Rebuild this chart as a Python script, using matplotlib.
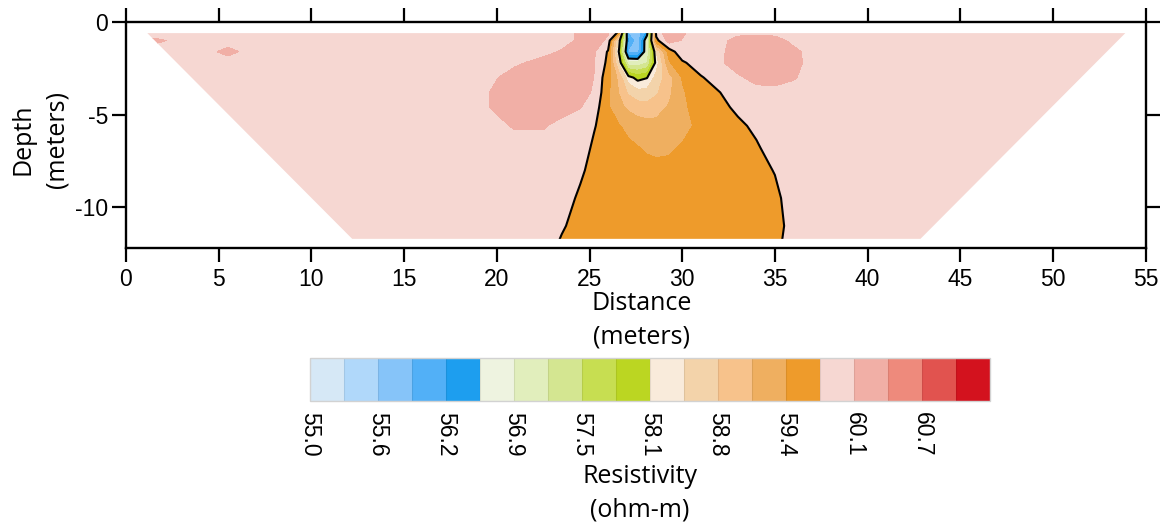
import matplotlib
matplotlib.use("Agg")
import matplotlib.pyplot as plt
import numpy as np
from matplotlib import font_manager
from matplotlib.patches import Polygon

# grid of the inverted section
DIST = [0, 1.5, 4, 5.5, 7, 10, 14, 18, 19.5, 21, 22.5, 23.5, 24.5, 25.25, 26, 26.6,
        27.1, 27.6, 28.1, 28.6, 29.3, 30, 31, 32, 33, 34, 35, 36, 37, 39, 45, 55]
DEPTH = [-0.5, -1.0, -1.6, -2.2, -3.0, -3.8, -4.6, -5.6, -6.8, -8.0, -9.5, -11.0, -12.2]
RES = [
    [59.92, 59.92, 59.92, 59.92, 59.92, 59.92, 59.92, 59.92, 59.92, 59.92, 59.92, 59.92, 60.12, 60.22, 60.12, 59.72,
     55.85, 55.70, 56.30, 59.90, 60.30, 60.12, 59.92, 59.92, 59.92, 59.92, 59.92, 59.92, 59.92, 59.92, 59.92, 59.92],
    [59.92, 60.12, 59.92, 59.92, 59.92, 59.92, 59.92, 59.92, 59.92, 59.92, 59.92, 59.92, 60.14, 60.22, 60.00, 58.30,
     56.20, 55.75, 56.90, 59.65, 60.20, 60.05, 59.92, 59.95, 60.20, 60.25, 60.20, 59.98, 59.92, 59.92, 59.92, 59.92],
    [59.92, 59.95, 59.92, 60.16, 59.92, 59.92, 59.92, 59.92, 59.92, 59.92, 59.95, 60.10, 60.22, 60.10, 59.72, 58.10,
     55.90, 55.80, 56.91, 58.49, 59.60, 59.95, 59.92, 59.98, 60.25, 60.30, 60.28, 60.15, 59.95, 59.92, 59.92, 59.92],
    [59.92, 59.92, 59.92, 59.92, 59.92, 59.92, 59.92, 59.92, 59.92, 60.00, 60.20, 60.25, 60.20, 60.08, 59.67, 58.40,
     57.00, 57.00, 57.20, 58.30, 59.40, 59.70, 59.92, 60.00, 60.25, 60.32, 60.30, 60.18, 59.95, 59.92, 59.92, 59.92],
    [59.92, 59.92, 59.92, 59.92, 59.92, 59.92, 59.92, 59.92, 59.95, 60.25, 60.30, 60.28, 60.20, 60.06, 59.54, 59.00,
     58.30, 58.05, 58.15, 58.60, 59.00, 59.45, 59.72, 59.90, 60.00, 60.20, 60.25, 60.10, 59.92, 59.92, 59.92, 59.92],
    [59.92, 59.92, 59.92, 59.92, 59.92, 59.92, 59.92, 59.92, 60.05, 60.30, 60.32, 60.30, 60.20, 60.02, 59.50, 59.10,
     58.75, 58.60, 58.60, 58.75, 59.05, 59.40, 59.60, 59.74, 59.92, 59.92, 59.92, 59.92, 59.92, 59.92, 59.92, 59.92],
    [59.92, 59.92, 59.92, 59.92, 59.92, 59.92, 59.92, 59.92, 60.05, 60.28, 60.30, 60.22, 60.08, 59.90, 59.48, 59.20,
     59.05, 58.95, 58.92, 58.98, 59.15, 59.38, 59.55, 59.68, 59.80, 59.92, 59.92, 59.92, 59.92, 59.92, 59.92, 59.92],
    [59.92, 59.92, 59.92, 59.92, 59.92, 59.92, 59.92, 59.92, 59.95, 60.10, 60.10, 59.95, 59.92, 59.77, 59.60, 59.45,
     59.35, 59.28, 59.23, 59.22, 59.25, 59.35, 59.50, 59.62, 59.70, 59.80, 59.92, 59.92, 59.92, 59.92, 59.92, 59.92],
    [59.92, 59.92, 59.92, 59.92, 59.92, 59.92, 59.92, 59.92, 59.92, 59.92, 59.92, 59.92, 59.88, 59.70, 59.60, 59.55,
     59.50, 59.45, 59.40, 59.38, 59.40, 59.46, 59.55, 59.60, 59.65, 59.72, 59.85, 59.92, 59.92, 59.92, 59.92, 59.92],
    [59.92, 59.92, 59.92, 59.92, 59.92, 59.92, 59.92, 59.92, 59.92, 59.92, 59.92, 59.92, 59.80, 59.65, 59.60, 59.58,
     59.56, 59.54, 59.52, 59.50, 59.50, 59.52, 59.56, 59.60, 59.63, 59.68, 59.76, 59.92, 59.92, 59.92, 59.92, 59.92],
    [59.92, 59.92, 59.92, 59.92, 59.92, 59.92, 59.92, 59.92, 59.92, 59.92, 59.92, 59.88, 59.70, 59.62, 59.60, 59.60,
     59.58, 59.57, 59.56, 59.56, 59.56, 59.57, 59.58, 59.60, 59.60, 59.62, 59.70, 59.85, 59.92, 59.92, 59.92, 59.92],
    [59.92, 59.92, 59.92, 59.92, 59.92, 59.92, 59.92, 59.92, 59.92, 59.92, 59.90, 59.78, 59.65, 59.62, 59.60, 59.60,
     59.60, 59.60, 59.60, 59.60, 59.60, 59.60, 59.60, 59.60, 59.60, 59.62, 59.68, 59.82, 59.92, 59.92, 59.92, 59.92],
    [59.92, 59.92, 59.92, 59.92, 59.92, 59.92, 59.92, 59.92, 59.92, 59.92, 59.86, 59.70, 59.63, 59.60, 59.60, 59.60,
     59.60, 59.60, 59.60, 59.60, 59.60, 59.60, 59.60, 59.60, 59.60, 59.60, 59.70, 59.85, 59.92, 59.92, 59.92, 59.92],
]

# outline of the covered section (trapezoid)
SECTION_X = [1.15, 53.9, 42.85, 12.2]
SECTION_Z = [-0.6, -0.6, -11.7, -11.7]

RES_MIN, RES_MAX, N_BINS = 55.0, 61.333, 20
TICK_LABELS = ["55.0", "55.6", "56.2", "56.9", "57.5", "58.1", "58.8", "59.4", "60.1", "60.7"]
BIN_COLORS = [
    "#d6e8f6", "#b0d8fa", "#86c4f9", "#52b0f7", "#1d9eef",
    "#eef3e0", "#e1eebc", "#d4e691", "#c7de51", "#bbd622",
    "#f9ebdb", "#f3d3aa", "#f7c28b", "#efaf60", "#ee9b2b",
    "#f6d7d2", "#f1afa6", "#ee8a7c", "#e1534f", "#d3121e",
]

names = {f.name for f in font_manager.fontManager.ttflist}
if "Liberation Sans Narrow" in names:
    TICK_FONT, TICK_SIZE = "Liberation Sans Narrow", 18
else:
    TICK_FONT, TICK_SIZE = "Liberation Sans", 16.5
LABEL_FONT = "Open Sans"
LABEL_SIZE = 18

plt.rcParams["font.family"] = TICK_FONT
plt.rcParams["axes.unicode_minus"] = False

W, H = 1170, 527


def main():
    levels = np.linspace(RES_MIN, RES_MAX, N_BINS + 1)
    x = np.array(DIST)
    z = np.array(DEPTH)
    v = np.array(RES)

    fig = plt.figure(figsize=(W / 100, H / 100), dpi=100)
    ax = fig.add_axes([126 / W, 1 - 248.3 / H, (1145.7 - 126) / W, (248.3 - 22) / H])

    cf = ax.contourf(x, z, v, levels=levels, colors=BIN_COLORS)
    cl = ax.contour(x, z, v, levels=levels[[5, 10, 15]], colors="black", linewidths=1.5)
    section = Polygon(np.column_stack([SECTION_X, SECTION_Z]), closed=True,
                      transform=ax.transData, facecolor="none", edgecolor="none")
    ax.add_patch(section)
    cf.set_clip_path(section)
    cl.set_clip_path(section)

    ax.set_xlim(0, 55)
    ax.set_ylim(-12.21, 0)
    ax.set_xticks(range(0, 56, 5))
    ax.set_yticks([0, -5, -10])
    ax.tick_params(direction="out", length=10, width=1.6, top=True, right=True,
                   labelsize=TICK_SIZE, pad=3)
    ax.tick_params(axis="x", pad=4)
    for sp in ax.spines.values():
        sp.set_linewidth(1.7)

    fig.text(641.5 / W, 1 - 291 / H, "Distance\n(meters)", ha="center", va="top",
             family=LABEL_FONT, fontsize=LABEL_SIZE, linespacing=1.45)
    fig.text(40 / W, 1 - 139.5 / H, "Depth\n(meters)", rotation=90, ha="center",
             va="center", family=LABEL_FONT, fontsize=LABEL_SIZE, linespacing=1.45)
    fig.text(640 / W, 1 - 464 / H, "Resistivity\n(ohm-m)", ha="center", va="top",
             family=LABEL_FONT, fontsize=LABEL_SIZE, linespacing=1.45)

    cax = fig.add_axes([310 / W, 1 - 401 / H, 680 / W, 43 / H])
    cb = fig.colorbar(cf, cax=cax, orientation="horizontal", drawedges=True)
    cb.set_ticks(levels[0:N_BINS:2])
    cb.set_ticklabels(TICK_LABELS)
    cax.tick_params(length=0, pad=8, labelrotation=-90, labelsize=TICK_SIZE)
    cb.outline.set_edgecolor("#d2d2d2")
    cb.outline.set_linewidth(1.0)
    cb.dividers.set_color((0, 0, 0, 0.08))
    cb.dividers.set_linewidth(0.8)

    fig.savefig("out.png", dpi=100)
    plt.close(fig)
    print("font:", TICK_FONT)


if __name__ == "__main__":
    main()
